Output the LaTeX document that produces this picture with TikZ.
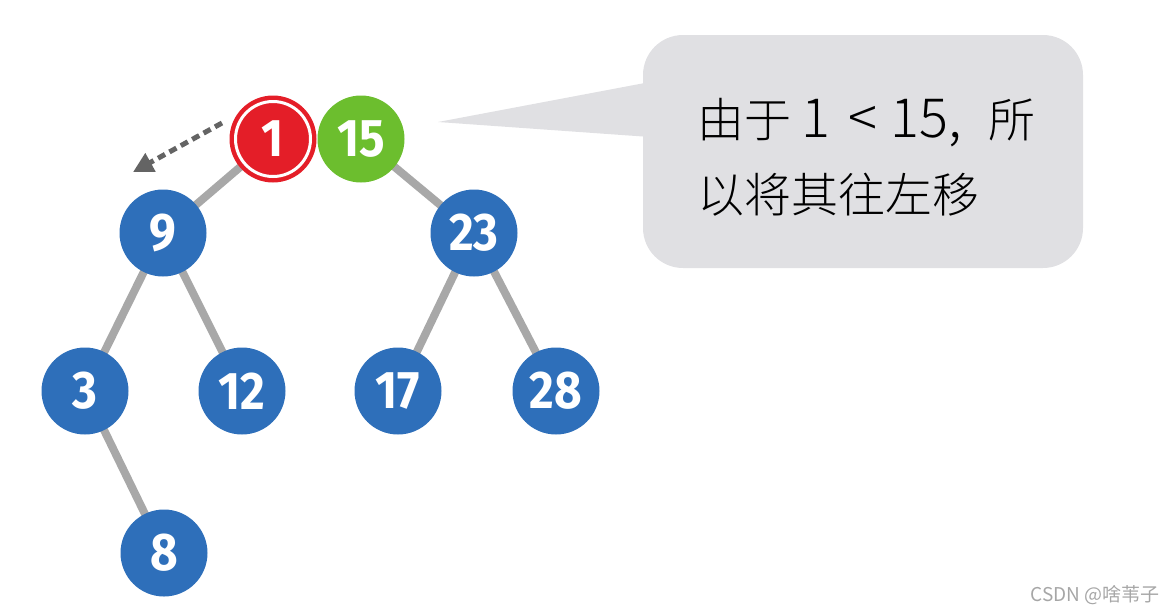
\documentclass[tikz,border=0pt]{standalone}
\usepackage{fontspec}
\setmainfont{Fira Sans}
\newfontfamily\numfont[FakeStretch=0.9]{Fira Sans}
\newfontfamily\cjk[UprightFont={* Light}]{Noto Sans CJK SC}
\newfontfamily\cjkreg{Noto Sans CJK SC}
\usetikzlibrary{arrows.meta}
\definecolor{nblue}{RGB}{46,111,186}
\definecolor{ngreen}{RGB}{108,190,46}
\definecolor{nred}{RGB}{228,30,40}
\definecolor{egray}{RGB}{168,168,168}
\definecolor{agray}{RGB}{100,100,100}
\definecolor{boxgray}{RGB}{224,224,227}
\tikzset{
  tnode/.style={circle, minimum size=87pt, inner sep=0pt, text=white,
    font=\numfont\bfseries\fontsize{53}{53}\selectfont},
  bnode/.style={tnode, fill=nblue},
  gnode/.style={tnode, fill=ngreen},
  rnode/.style={tnode, fill=nred},
  edge/.style={draw=egray, line width=8pt},
}
\begin{document}
\begin{tikzpicture}[x=1pt,y=-1pt]
\useasboundingbox (0,0) rectangle (1166,614);
% edges
\coordinate (n1c) at (273,139);
\coordinate (n15c) at (361,139);
\coordinate (n9c) at (163,233);
\coordinate (n23c) at (474,233);
\coordinate (n3c) at (85,391);
\coordinate (n12c) at (242,391);
\coordinate (n17c) at (398,391);
\coordinate (n28c) at (556,391);
\coordinate (n8c) at (164,553);
\draw[edge] (n1c) -- (n9c);
\draw[edge] (n15c) -- (n23c);
\draw[edge] (n9c) -- (n3c);
\draw[edge] (n9c) -- (n12c);
\draw[edge] (n23c) -- (n17c);
\draw[edge] (n23c) -- (n28c);
\draw[edge] (n3c) -- (n8c);
% nodes
\node[bnode] (n9) at (n9c) {9};
\node[bnode] (n23) at (n23c) {23};
\node[bnode] (n3) at (n3c) {3};
\node[bnode] (n12) at (n12c) {12};
\node[bnode] (n17) at (n17c) {17};
\node[bnode] (n28) at (n28c) {28};
\node[bnode] (n8) at (n8c) {8};
\node[gnode] (n15) at (n15c) {15};
\node[rnode] (n1) at (n1c) {1};
\draw[white, line width=3pt] (n1c) circle (37.5pt);
% dashed arrow
\coordinate (arrS) at (222,123);
\coordinate (arrE) at (133,172);
\draw[agray, line width=5pt, dash pattern=on 8pt off 5pt,
  -{Triangle[length=20pt,width=20pt]}] (arrS) -- (arrE);
% callout
\fill[boxgray, rounded corners=40pt] (643,35) rectangle (1083,268);
\fill[boxgray] (438,122) -- (650,82) -- (650,137) -- cycle;
\node[anchor=west, align=left, inner sep=0pt, text=black,
  font=\cjk\fontsize{47}{75}\selectfont] (txt) at (697,157)
  {由于\hspace{10pt}{\fontsize{54}{75}\selectfont 1\hspace{18pt}<\hspace{14pt}15,}\hspace{26pt}所\\以将其往左移};
% watermark
\node[anchor=east, inner sep=0pt, text=black!35,
  font=\cjkreg\fontsize{19}{19}\selectfont] (wm) at (1160,595) {CSDN @啥苇子};
\end{tikzpicture}
\end{document}
